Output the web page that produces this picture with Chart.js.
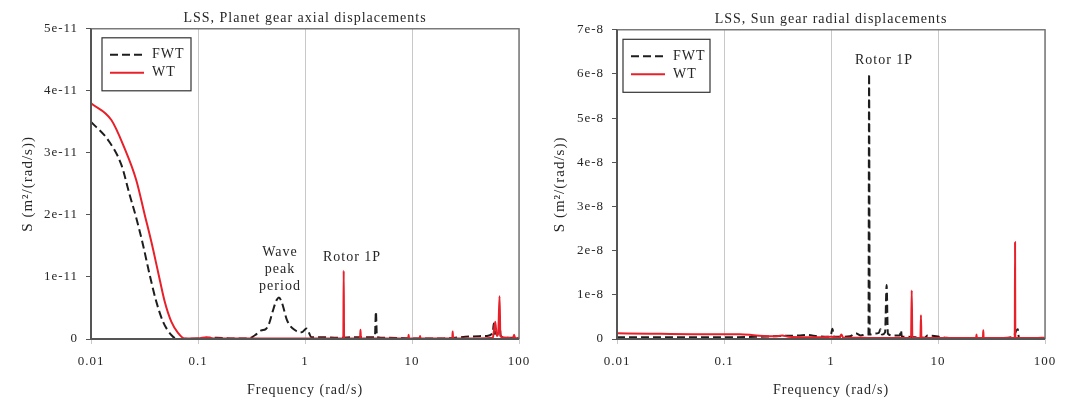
<!DOCTYPE html>
<html>
<head>
<meta charset="utf-8">
<script src="https://cdn.jsdelivr.net/npm/chart.js@4"></script>
<style>
  body { margin: 0; background: #fff; }
  #wrap { position: relative; width: 1076px; height: 401px; }
  canvas { position: absolute; top: 0; }
</style>
</head>
<body>
<div id="wrap">
  <canvas id="planet-chart" width="538" height="401" style="left:0"></canvas>
  <canvas id="sun-chart" width="538" height="401" style="left:538px"></canvas>
</div>
<script>
// frequency axis (both panels)
const freqTicks = [0.01, 0.1, 1, 10, 100];
const freqTickLabels = ['0.01', '0.1', '1', '10', '100'];

// LSS, planet gear axial displacements (values in 1e-11 m^2/(rad/s))
const planetYTicks = [0, 1, 2, 3, 4, 5];
const planetYTickLabels = ['0', '1e-11', '2e-11', '3e-11', '4e-11', '5e-11'];
const planetFwtFreq = [0.01, 0.0144, 0.0192, 0.023, 0.0265, 0.0306, 0.0354, 0.0408, 0.0471, 0.0563, 0.065, 0.1, 0.15, 0.2, 0.3, 0.34, 0.39, 0.43, 0.46, 0.5, 0.54, 0.57, 0.61, 0.68, 0.81, 0.93, 1.035, 1.15, 1.5, 2, 3, 4.5, 4.6, 4.7, 6, 10, 20, 35, 50, 57, 58, 59.5, 62, 64, 66, 67.5, 75, 100];
const planetFwtS = [3.5, 3.21, 2.81, 2.32, 1.95, 1.52, 1.03, 0.6, 0.28, 0.065, 0, 0.01, 0.02, 0.01, 0.01, 0.06, 0.14, 0.16, 0.24, 0.45, 0.62, 0.67, 0.58, 0.3, 0.14, 0.11, 0.17, 0.03, 0.03, 0.02, 0.03, 0.03, 0.44, 0.03, 0.02, 0.01, 0.01, 0.04, 0.05, 0.1, 0.25, 0.08, 0.12, 0.1, 0.23, 0.05, 0.02, 0.02];
const planetWtFreq = [0.01, 0.0155, 0.0203, 0.0265, 0.0318, 0.0366, 0.0423, 0.0489, 0.0563, 0.065, 0.0751, 0.1, 0.12, 0.14, 0.3, 0.6, 1, 1.5, 2.28, 2.3, 2.32, 3.27, 3.3, 3.33, 6, 9.22, 9.3, 9.38, 11.8, 11.9, 12, 23.8, 24, 24.2, 40, 57, 58, 60, 62, 64, 65.8, 67, 70, 88, 90, 92, 100];
const planetWtS = [3.8, 3.53, 3.1, 2.56, 2.0, 1.57, 1.085, 0.6, 0.28, 0.1, 0.01, 0.01, 0.03, 0.01, 0.01, 0.01, 0.01, 0.01, 0.01, 1.1, 0.01, 0.01, 0.15, 0.01, 0.01, 0.01, 0.07, 0.01, 0.01, 0.05, 0.01, 0.01, 0.12, 0.01, 0.01, 0.02, 0.1, 0.28, 0.05, 0.1, 0.69, 0.05, 0.03, 0.01, 0.07, 0.01, 0.02];

// LSS, sun gear radial displacements (values in 1e-8 m^2/(rad/s))
const sunYTicks = [0, 1, 2, 3, 4, 5, 6, 7];
const sunYTickLabels = ['0', '1e-8', '2e-8', '3e-8', '4e-8', '5e-8', '6e-8', '7e-8'];
const sunFwtFreq = [0.01, 0.05, 0.1, 0.2, 0.35, 0.5, 0.6, 0.75, 0.95, 1.0, 1.03, 1.07, 1.2, 1.5, 1.7, 1.9, 2.1, 2.24, 2.27, 2.3, 2.5, 2.8, 2.9, 3.0, 3.2, 3.31, 3.4, 3.8, 4.4, 4.5, 4.6, 5, 7.5, 8, 12, 20, 40, 50, 55.7, 57, 70, 100];
const sunFwtS = [0.04, 0.04, 0.04, 0.05, 0.07, 0.08, 0.09, 0.06, 0.05, 0.1, 0.23, 0.05, 0.05, 0.06, 0.13, 0.08, 0.1, 0.1, 6.0, 0.1, 0.12, 0.14, 0.22, 0.1, 0.15, 1.22, 0.12, 0.08, 0.08, 0.2, 0.05, 0.05, 0.03, 0.08, 0.03, 0.02, 0.02, 0.05, 0.22, 0.03, 0.02, 0.02];
const sunWtFreq = [0.01, 0.02, 0.05, 0.1, 0.14, 0.2, 0.3, 0.35, 0.4, 0.6, 0.8, 1.0, 1.2, 1.25, 1.3, 1.6, 2.0, 2.5, 3.0, 4, 5.6, 5.68, 5.76, 6.85, 6.93, 7.0, 10, 15, 22.7, 22.9, 23.1, 26.3, 26.5, 26.7, 40, 52.2, 52.5, 52.8, 60, 80, 100];
const sunWtS = [0.13, 0.12, 0.11, 0.11, 0.11, 0.08, 0.06, 0.08, 0.05, 0.04, 0.04, 0.05, 0.03, 0.1, 0.03, 0.03, 0.03, 0.02, 0.02, 0.02, 0.02, 1.1, 0.02, 0.02, 0.54, 0.02, 0.02, 0.02, 0.02, 0.1, 0.02, 0.02, 0.2, 0.02, 0.02, 0.03, 2.19, 0.03, 0.02, 0.02, 0.03];

const SERIF = '"Liberation Serif", "Times New Roman", serif';
const TEXT = '#262626';
const RED = '#e8202a';
const BLACK = '#1e1e1e';

function points(xs, ys) {
    return xs.map((x, i) => ({ x: x, y: ys[i] }));
}

// the reference text is slightly letter spaced
const spacingPlugin = {
    id: 'spacing',
    beforeLayout(chart) { chart.ctx.letterSpacing = '1px'; },
    beforeDraw(chart) { chart.ctx.letterSpacing = '1px'; },
};

// plot frame: darker left/bottom axes, lighter top/right
const framePlugin = {
    id: 'frame',
    afterDatasetsDraw(chart) {
        const { ctx, chartArea: a } = chart;
        ctx.save();
        ctx.strokeStyle = '#7a7a7a';
        ctx.lineWidth = 1.5;
        ctx.beginPath();
        ctx.moveTo(a.left, a.top);
        ctx.lineTo(a.right, a.top);
        ctx.lineTo(a.right, a.bottom);
        ctx.stroke();
        ctx.strokeStyle = '#555';
        ctx.lineWidth = 2;
        ctx.beginPath();
        ctx.moveTo(a.left, a.top);
        ctx.lineTo(a.left, a.bottom);
        ctx.lineTo(a.right, a.bottom);
        ctx.stroke();
        ctx.restore();
    },
};

// boxed legend inside the plot
const boxLegendPlugin = {
    id: 'boxLegend',
    afterDraw(chart, args, opts) {
        const { ctx, chartArea: a } = chart;
        const bx = a.left + opts.dx, by = a.top + opts.dy;
        ctx.save();
        ctx.fillStyle = '#fff';
        ctx.fillRect(bx, by, opts.w, opts.h);
        ctx.strokeStyle = '#333';
        ctx.lineWidth = 1.2;
        ctx.strokeRect(bx, by, opts.w, opts.h);
        chart.data.datasets.forEach((ds, i) => {
            const ly = by + 17 + i * 18;
            ctx.strokeStyle = ds.borderColor;
            ctx.lineWidth = 2;
            ctx.setLineDash(ds.borderDash || []);
            ctx.beginPath();
            ctx.moveTo(bx + 8, ly);
            ctx.lineTo(bx + 42, ly);
            ctx.stroke();
            ctx.setLineDash([]);
            ctx.fillStyle = TEXT;
            ctx.font = '14px ' + SERIF;
            ctx.textAlign = 'left';
            ctx.textBaseline = 'middle';
            ctx.fillText(ds.label, bx + 50, ly);
        });
        ctx.restore();
    },
};

// text notes placed at data coordinates
const notesPlugin = {
    id: 'notes',
    afterDatasetsDraw(chart, args, opts) {
        const { ctx, scales } = chart;
        ctx.save();
        ctx.font = '14px ' + SERIF;
        ctx.fillStyle = TEXT;
        ctx.textAlign = 'center';
        ctx.textBaseline = 'middle';
        (opts.items || []).forEach(n => {
            const px = scales.x.getPixelForValue(n.x);
            const py = scales.y.getPixelForValue(n.y);
            n.lines.forEach((t, i) => ctx.fillText(t, px, py + i * 17));
        });
        ctx.restore();
    },
};

function makeChart(id, cfg) {
    const ctx = document.getElementById(id).getContext('2d');
    return new Chart(ctx, {
        type: 'line',
        data: {
            datasets: [
                {
                    label: 'FWT',
                    data: points(cfg.fwtFreq, cfg.fwtS),
                    borderColor: BLACK,
                    borderWidth: 2,
                    borderDash: [8, 4],
                    order: 1,
                },
                {
                    label: 'WT',
                    data: points(cfg.wtFreq, cfg.wtS),
                    borderColor: RED,
                    borderWidth: 2,
                    order: 0,
                },
            ],
        },
        options: {
            responsive: false,
            animation: false,
            devicePixelRatio: 1,
            elements: {
                point: { radius: 0 },
                line: { cubicInterpolationMode: 'monotone', fill: false },
            },
            datasets: { line: { clip: 4 } },
            layout: { padding: { left: 0, right: cfg.padRight, top: 0, bottom: 0 } },
            scales: {
                x: {
                    type: 'logarithmic',
                    min: 0.01,
                    max: 100,
                    afterBuildTicks: (scale) => { scale.ticks = freqTicks.map(v => ({ value: v })); },
                    afterFit: (scale) => {
                        scale.height = 62;
                        scale.paddingLeft = 0;
                        scale.paddingRight = 0;
                    },
                    grid: { color: '#c8c8c8', lineWidth: 1, tickLength: 5 },
                    border: { display: false },
                    ticks: {
                        autoSkip: false,
                        maxRotation: 0,
                        padding: 10,
                        color: TEXT,
                        font: { family: SERIF, size: 13 },
                        callback: (v, i) => freqTickLabels[i],
                    },
                    title: {
                        display: true,
                        text: 'Frequency (rad/s)',
                        color: TEXT,
                        font: { family: SERIF, size: 14 },
                        padding: { top: 0, bottom: 2 },
                    },
                },
                y: {
                    type: 'linear',
                    min: 0,
                    max: cfg.yMax,
                    afterBuildTicks: (scale) => { scale.ticks = cfg.yTicks.map(v => ({ value: v })); },
                    afterFit: (scale) => { scale.width = cfg.yWidth; },
                    grid: { drawOnChartArea: false, color: '#555', tickLength: 5 },
                    border: { display: false },
                    ticks: {
                        padding: 8,
                        color: TEXT,
                        font: { family: SERIF, size: 13 },
                        callback: (v, i) => cfg.yTickLabels[i],
                    },
                    title: {
                        display: true,
                        text: 'S (m²/(rad/s))',
                        color: TEXT,
                        font: { family: SERIF, size: 15 },
                        padding: { top: cfg.yTitlePad, bottom: 0 },
                    },
                },
            },
            plugins: {
                legend: { display: false },
                tooltip: { enabled: false },
                title: {
                    display: true,
                    text: cfg.title,
                    fullSize: false,
                    color: TEXT,
                    font: { family: SERIF, size: 14, weight: 'normal' },
                    padding: { top: cfg.titleTop, bottom: 2 },
                },
                boxLegend: cfg.legendBox,
                notes: { items: cfg.notes },
            },
        },
        plugins: [spacingPlugin, framePlugin, notesPlugin, boxLegendPlugin],
    });
}

makeChart('planet-chart', {
    title: 'LSS, Planet gear axial displacements',
    fwtFreq: planetFwtFreq, fwtS: planetFwtS,
    wtFreq: planetWtFreq, wtS: planetWtS,
    yMax: 5, yTicks: planetYTicks, yTickLabels: planetYTickLabels,
    yWidth: 91, padRight: 19, yTitlePad: 19, titleTop: 10,
    legendBox: { dx: 11, dy: 9, w: 89, h: 53 },
    notes: [
        { x: 0.584, y: 1.4, lines: ['Wave', 'peak', 'period'] },
        { x: 2.75, y: 1.32, lines: ['Rotor 1P'] },
    ],
});

makeChart('sun-chart', {
    title: 'LSS, Sun gear radial displacements',
    fwtFreq: sunFwtFreq, fwtS: sunFwtS,
    wtFreq: sunWtFreq, wtS: sunWtS,
    yMax: 7, yTicks: sunYTicks, yTickLabels: sunYTickLabels,
    yWidth: 79, padRight: 31, yTitlePad: 13, titleTop: 11,
    legendBox: { dx: 6, dy: 9.5, w: 87, h: 53 },
    notes: [
        { x: 3.13, y: 6.3, lines: ['Rotor 1P'] },
    ],
});
</script>
</body>
</html>
